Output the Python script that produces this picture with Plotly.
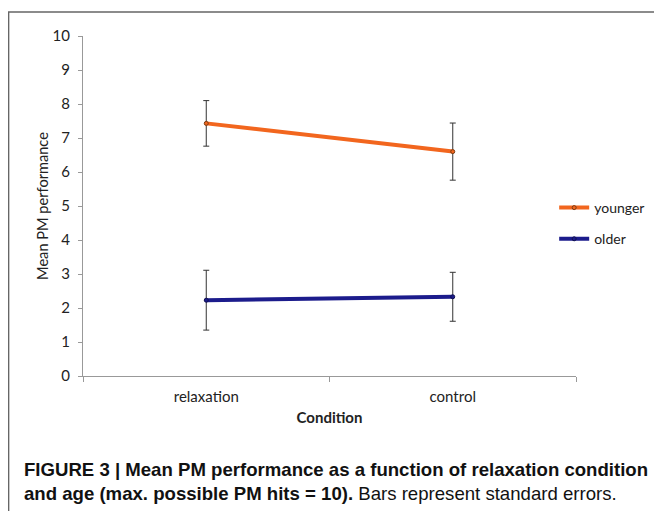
import plotly.graph_objects as go

categories = ["relaxation", "control"]
younger_mean = [7.43, 6.60]
younger_se = [0.67, 0.84]
older_mean = [2.23, 2.33]
older_se = [0.88, 0.72]
series_names = ["younger", "older"]
y_ticks = list(range(0, 11))

# page has an 8px body margin; work in page coordinates and convert
OFF = 8
W, H = 662 - OFF, 511 - OFF
L, T = 83 - OFF, 36 - OFF
R = W - (580 - OFF)
B = H - (376 - OFF)
pw, ph = W - L - R, H - T - B

def px(x):
    return (x - OFF - L) / pw

def py(y):
    return (H - B - (y - OFF)) / ph

FONT = "Lato, Open Sans, sans-serif"
tick_font = dict(family=FONT, size=15, color="#222")

fig = go.Figure()
fig.add_trace(go.Scatter(
    x=categories, y=younger_mean, name=series_names[0], mode="lines+markers",
    line=dict(color="#F2661E", width=4),
    marker=dict(size=4, color="#F2661E", line=dict(color="#7a3a10", width=1)),
    error_y=dict(type="data", array=younger_se, color="#333", thickness=1, width=3),
    legendgroup="a",
))
fig.add_trace(go.Scatter(
    x=categories, y=older_mean, name=series_names[1], mode="lines+markers",
    line=dict(color="#1C1C8C", width=4),
    marker=dict(size=4, color="#1C1C8C", line=dict(color="#101050", width=1)),
    error_y=dict(type="data", array=older_se, color="#333", thickness=1, width=3),
    legendgroup="b",
))

fig.update_layout(
    width=W, height=H,
    margin=dict(l=L, r=R, t=T, b=B),
    plot_bgcolor="white", paper_bgcolor="white",
    showlegend=True,
    legend=dict(x=px(558), y=py(192), xanchor="left", yanchor="top",
                font=dict(family=FONT, size=14, color="#222"),
                itemwidth=30, tracegroupgap=10, traceorder="grouped",
                bgcolor="rgba(0,0,0,0)"),
    xaxis=dict(type="category", range=[-0.5, 1.5], showline=True, linecolor="#999",
               linewidth=1, ticks="outside", tickson="boundaries", ticklen=5,
               tickcolor="#999", showgrid=False, tickfont=tick_font,
               ticklabelstandoff=7,
               title=dict(text="<b>Condition</b>", font=dict(family=FONT, size=15, color="#222"), standoff=8)),
    yaxis=dict(range=[0, 10], tickvals=y_ticks, showline=True, linecolor="#999",
               linewidth=1, ticks="outside", ticklen=4, tickcolor="#999",
               showgrid=False, zeroline=False, tickfont=tick_font,
               ticklabelstandoff=5,
               title=dict(text="Mean PM performance", font=dict(family=FONT, size=14.6, color="#222"), standoff=0)),
)

cap_font = dict(family="Liberation Sans Narrow, Arial Narrow, sans-serif", size=18.6, color="#111")
fig.add_annotation(x=px(22), y=py(469), xref="paper", yref="paper", xanchor="left", yanchor="middle",
                   showarrow=False, font=cap_font,
                   text="<b>FIGURE 3 | Mean PM performance as a function of relaxation condition</b>")
fig.add_annotation(x=px(22), y=py(493), xref="paper", yref="paper", xanchor="left", yanchor="middle",
                   showarrow=False, font=cap_font,
                   text="<b>and age (max. possible PM hits = 10).</b> Bars represent standard errors.")

fig.add_shape(type="rect", xref="paper", yref="paper",
              x0=px(8), x1=px(680), y0=py(12), y1=py(540),
              line=dict(color="#666", width=1.5), layer="below")

fig.write_html("out.html")
